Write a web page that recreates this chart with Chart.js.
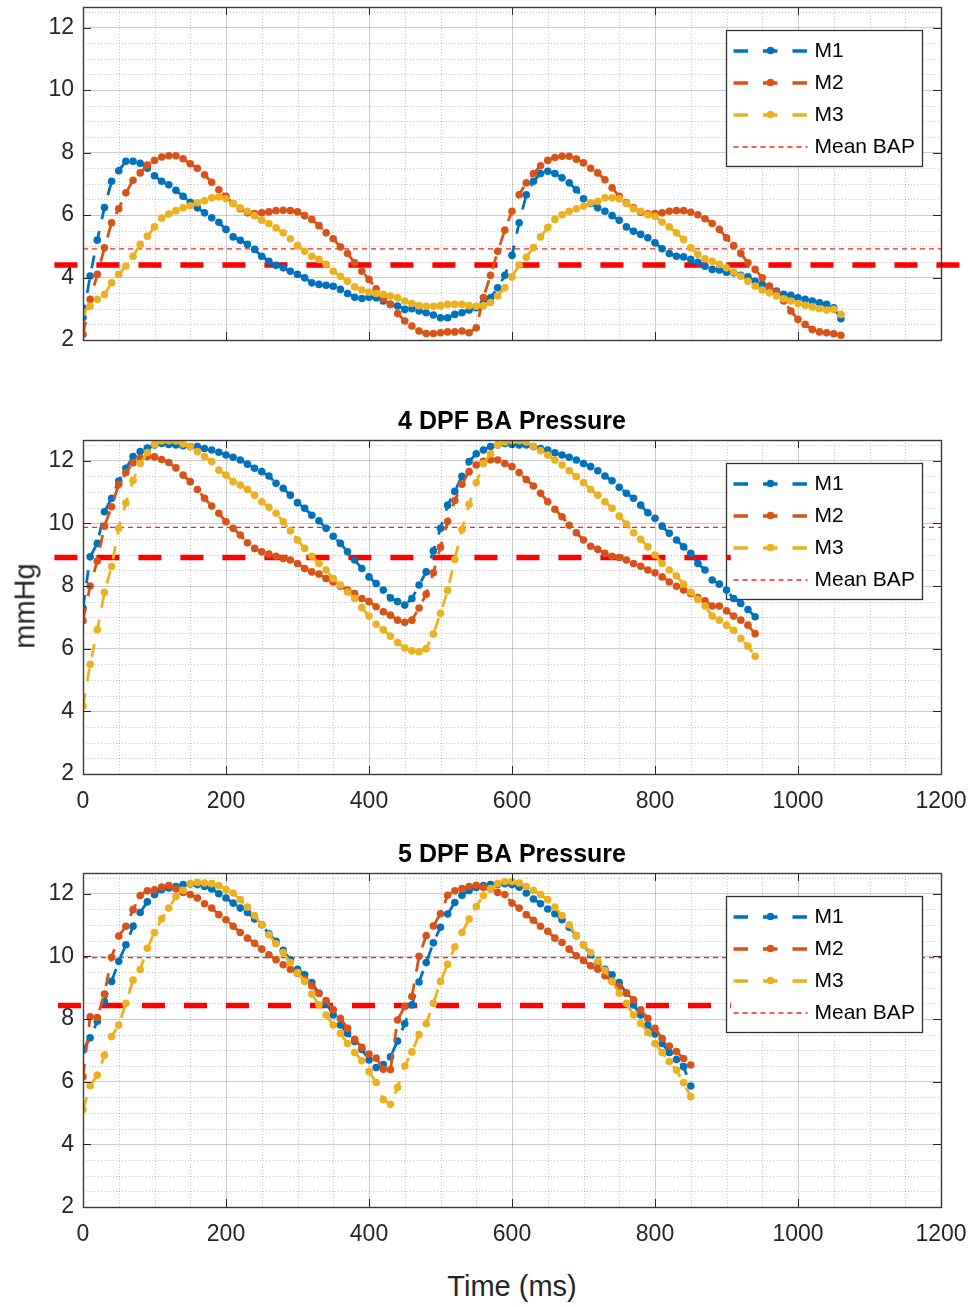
<!DOCTYPE html>
<html>
<head>
<meta charset="utf-8">
<script src="https://cdn.jsdelivr.net/npm/chart.js@4.4.1/dist/chart.umd.min.js"></script>
<style>
  html, body { margin:0; padding:0; background:#fff; }
  body { width:969px; height:1307px; position:relative; overflow:hidden; font-family:"Liberation Sans", Arial, Helvetica, sans-serif; }
  canvas { position:absolute; left:0; }
  #ylab { position:absolute; left:25px; top:606px; transform:translate(-50%,-50%) rotate(-90deg); font-size:29px; color:#262626; white-space:nowrap; }
  #xlab { position:absolute; left:512px; top:1286px; transform:translate(-50%,-50%); font-size:29px; color:#262626; white-space:nowrap; }
</style>
</head>
<body>
<canvas id="c1" width="969" height="360" style="top:0px"></canvas>
<canvas id="c2" width="969" height="424" style="top:395px"></canvas>
<canvas id="c3" width="969" height="424" style="top:828px"></canvas>
<div id="ylab">mmHg</div>
<div id="xlab">Time (ms)</div>
<script>
// ---------------- data ----------------
const timeMs = [0,10,20,30,40,50,60,70,80,90,100,110,120,130,140,150,160,170,180,190,200,210,220,230,240,250,260,270,280,290,300,310,320,330,340,350,360,370,380,390,400,410,420,430,440,450,460,470,480,490,500,510,520,530,540,550,560,570,580,590,600,610,620,630,640,650,660,670,680,690,700,710,720,730,740,750,760,770,780,790,800,810,820,830,840,850,860,870,880,890,900,910,920,930,940,950,960,970,980,990,1000,1010,1020,1030,1040,1050,1060];

const xTicks = [0,200,400,600,800,1000,1200];
const yTicks = [2,4,6,8,10,12];
const seriesNames = ['M1','M2','M3'];
const meanLabel = 'Mean BAP';
const panelTitles = ['', '4 DPF BA Pressure', '5 DPF BA Pressure'];

// Panel 1 (top)
const top_M1 = [2.72,4.05,5.2,6.24,7.08,7.42,7.72,7.72,7.66,7.5,
  7.26,7.08,6.97,6.79,6.6,6.41,6.23,6.07,5.91,5.77,
  5.54,5.3,5.19,5.06,4.9,4.68,4.52,4.39,4.31,4.2,
  4.1,3.99,3.83,3.78,3.75,3.72,3.62,3.49,3.37,3.33,
  3.37,3.35,3.25,3.14,3.09,2.98,3.0,2.93,2.87,2.8,
  2.71,2.71,2.82,2.87,2.96,3.03,3.19,3.35,3.67,4.07,
  4.71,5.75,6.65,7.08,7.33,7.4,7.33,7.19,7.03,6.81,
  6.52,6.37,6.23,6.12,5.98,5.83,5.62,5.48,5.38,5.27,
  5.11,4.92,4.77,4.68,4.66,4.58,4.49,4.36,4.26,4.24,
  4.17,4.15,4.07,4.02,3.88,3.78,3.67,3.57,3.46,3.43,
  3.35,3.3,3.25,3.19,3.14,3.03,2.68];
const top_M2 = [2.18,3.3,4.1,4.95,5.75,6.2,6.71,7.11,7.35,7.6,
  7.75,7.86,7.9,7.9,7.8,7.64,7.5,7.29,7.05,6.81,
  6.6,6.37,6.2,6.07,6.05,6.07,6.1,6.14,6.15,6.14,
  6.1,5.98,5.86,5.66,5.43,5.24,4.98,4.77,4.47,4.2,
  3.94,3.64,3.32,3.14,2.85,2.61,2.45,2.29,2.21,2.21,
  2.23,2.26,2.26,2.29,2.23,2.39,3.36,4.07,4.84,5.52,
  6.12,6.65,7.03,7.33,7.58,7.75,7.84,7.88,7.88,7.79,
  7.67,7.5,7.35,7.13,6.87,6.6,6.39,6.23,6.09,6.04,
  6.05,6.07,6.12,6.14,6.14,6.09,6.01,5.88,5.73,5.54,
  5.27,5.02,4.77,4.47,4.26,3.99,3.73,3.53,3.25,2.93,
  2.66,2.5,2.34,2.26,2.23,2.2,2.15];
const top_M3 = [2.88,3.09,3.3,3.46,3.83,4.1,4.37,4.68,5.06,5.32,
  5.62,5.9,6.03,6.14,6.23,6.3,6.39,6.46,6.55,6.58,
  6.52,6.37,6.23,6.12,5.98,5.83,5.73,5.59,5.43,5.24,
  5.02,4.84,4.68,4.58,4.42,4.2,4.04,3.88,3.7,3.6,
  3.53,3.49,3.46,3.41,3.35,3.25,3.17,3.1,3.08,3.08,
  3.1,3.14,3.14,3.14,3.1,3.08,3.1,3.2,3.41,3.67,
  4.02,4.4,4.65,4.96,5.3,5.6,5.86,6.01,6.12,6.2,
  6.28,6.39,6.44,6.55,6.55,6.52,6.37,6.2,6.12,6.01,
  5.96,5.77,5.62,5.43,5.22,4.95,4.74,4.6,4.52,4.42,
  4.31,4.17,4.04,3.88,3.73,3.6,3.51,3.41,3.32,3.25,
  3.17,3.11,3.06,3.0,2.96,2.98,2.82];
const top_meanThin = 4.92;
const top_meanThick = 4.4;
const top_thickSpan = [-40, 1228];

// Panel 2 (4 DPF)
const mid_M1 = [7.3,8.93,9.36,10.37,10.8,11.35,11.76,12.13,12.29,12.4,
  12.5,12.55,12.52,12.5,12.48,12.45,12.45,12.39,12.34,12.27,
  12.18,12.11,12.02,11.89,11.76,11.65,11.51,11.28,11.12,10.9,
  10.66,10.48,10.26,10.08,9.84,9.59,9.36,9.09,8.83,8.56,
  8.29,8.08,7.87,7.62,7.5,7.39,7.6,8.03,8.45,9.12,
  9.84,10.58,11.02,11.5,11.97,12.22,12.34,12.45,12.5,12.55,
  12.52,12.5,12.5,12.45,12.39,12.34,12.25,12.18,12.11,12.02,
  11.91,11.81,11.68,11.51,11.36,11.15,10.96,10.8,10.58,10.34,
  10.16,9.91,9.68,9.47,9.25,9.04,8.72,8.51,8.19,8.06,
  7.87,7.6,7.44,7.25,7.02];
const mid_M2 = [6.89,8.0,8.8,9.91,10.53,11.25,11.62,11.93,12.08,12.13,
  12.12,12.04,11.94,11.77,11.54,11.33,11.08,10.8,10.55,10.32,
  10.05,9.84,9.63,9.38,9.2,9.09,9.02,8.95,8.88,8.83,
  8.72,8.56,8.45,8.38,8.24,8.13,7.99,7.87,7.76,7.6,
  7.5,7.34,7.18,7.07,6.91,6.84,6.91,7.3,7.74,8.42,
  9.24,10.06,10.73,11.25,11.65,11.86,11.98,12.03,12.02,11.91,
  11.81,11.62,11.4,11.19,10.96,10.69,10.45,10.21,9.94,9.7,
  9.47,9.27,9.17,9.04,8.95,8.91,8.83,8.72,8.63,8.51,
  8.42,8.29,8.13,7.99,7.87,7.76,7.63,7.53,7.36,7.36,
  7.21,7.04,6.91,6.75,6.48];
const mid_M3 = [4.17,5.5,6.6,7.8,8.62,9.84,10.65,11.37,11.91,12.26,
  12.52,12.63,12.64,12.63,12.53,12.45,12.29,12.13,11.97,11.7,
  11.54,11.33,11.22,11.08,10.9,10.69,10.51,10.32,10.05,9.76,
  9.47,9.2,8.95,8.72,8.51,8.24,8.03,7.81,7.6,7.31,
  7.04,6.78,6.6,6.4,6.2,6.02,5.93,5.9,6.0,6.47,
  7.13,7.86,8.85,9.8,10.61,11.3,11.91,12.22,12.5,12.6,
  12.64,12.64,12.6,12.45,12.32,12.18,12.02,11.86,11.68,11.49,
  11.3,11.08,10.9,10.69,10.48,10.23,9.98,9.7,9.49,9.25,
  8.99,8.72,8.51,8.32,8.06,7.81,7.57,7.36,7.04,6.91,
  6.75,6.59,6.32,6.08,5.76];
const mid_meanThin = 9.87;
const mid_meanThick = 8.91;
const mid_thickSpan = [-40, 906];

// Panel 3 (5 DPF)
const bot_M1 = [7.0,7.4,7.93,8.55,9.2,9.84,10.37,10.96,11.4,11.74,
  11.97,12.13,12.18,12.23,12.29,12.31,12.29,12.23,12.15,12.0,
  11.86,11.7,11.54,11.4,11.19,11.01,10.72,10.48,10.19,9.89,
  9.59,9.41,9.16,8.82,8.5,8.13,7.81,7.54,7.28,7.03,
  6.69,6.45,6.55,6.79,7.3,7.85,8.45,9.18,9.8,10.43,
  10.93,11.35,11.72,11.95,12.1,12.2,12.26,12.29,12.29,12.32,
  12.29,12.21,12.02,11.83,11.68,11.51,11.36,11.17,10.93,10.66,
  10.37,10.05,9.8,9.59,9.41,9.16,8.82,8.45,8.13,7.81,
  7.52,7.22,6.93,6.71,6.48,5.86];
const bot_M2 = [6.16,8.07,8.05,8.8,9.97,10.65,10.96,11.49,11.94,12.09,
  12.12,12.21,12.26,12.15,12.04,11.97,11.86,11.68,11.54,11.33,
  11.17,10.96,10.76,10.58,10.42,10.23,10.05,9.89,9.73,9.59,
  9.46,9.27,9.06,8.82,8.59,8.29,8.02,7.7,7.35,7.1,
  6.88,6.75,6.4,6.39,7.97,8.4,8.72,10.0,10.66,10.97,
  11.36,11.95,12.09,12.16,12.23,12.27,12.2,12.15,12.04,11.97,
  11.7,11.54,11.33,11.15,10.96,10.8,10.58,10.44,10.23,10.02,
  9.87,9.7,9.59,9.38,9.2,9.04,8.84,8.61,8.29,8.02,
  7.7,7.38,7.14,6.96,6.74,6.53];
const bot_M3 = [5.11,5.87,6.21,6.84,7.44,7.81,8.5,9.24,9.58,10.26,
  10.76,11.2,11.54,11.91,12.11,12.32,12.36,12.34,12.32,12.26,
  12.13,12.02,11.81,11.57,11.3,11.01,10.69,10.4,10.12,9.8,
  9.48,9.2,8.8,8.45,8.13,7.81,7.54,7.22,6.93,6.67,
  6.32,5.97,5.43,5.28,5.82,6.5,6.95,7.5,7.85,8.5,
  9.2,9.75,10.3,10.76,11.19,11.59,11.94,12.16,12.32,12.39,
  12.39,12.34,12.23,12.11,11.97,11.81,11.57,11.3,11.01,10.66,
  10.37,10.12,9.84,9.55,9.2,8.82,8.5,8.13,7.86,7.57,
  7.22,6.93,6.64,6.37,5.97,5.52];
const bot_meanThin = 9.96;
const bot_meanThick = 8.43;
const bot_thickSpan = [-35, 906];

// ---------------- styling ----------------
const FONT = '"Liberation Sans", Arial, Helvetica, sans-serif';
const COLORS = ['#0072BD', '#D95319', '#EDB120'];
const AXIS_COLOR = '#262626';
const THIN_RED = '#ff1f1f';
const X_MIN = 0, X_MAX = 1200, Y_MIN = 2, Y_MAX = 12.66;

function drawLegend(chart) {
  const ctx = chart.ctx, a = chart.chartArea;
  const bx = Math.round(a.right - 215) + 0.5, by = Math.round(a.top + 23) + 0.5, bw = 196, bh = 136;
  ctx.save();
  ctx.setLineDash([]);
  ctx.fillStyle = '#ffffff';
  ctx.fillRect(bx, by, bw, bh);
  ctx.strokeStyle = '#303030';
  ctx.lineWidth = 1.3;
  ctx.strokeRect(bx, by, bw, bh);
  const rows = seriesNames.concat([meanLabel]);
  rows.forEach((name, i) => {
    const ds = chart.data.datasets.find(d => d.label === name);
    const cy = by + 20 + i * 32;
    const x0 = bx + 7, x1 = bx + 81;
    ctx.beginPath();
    if (name === meanLabel) {
      ctx.setLineDash([5, 4]);
      ctx.lineWidth = 1.3;
    } else {
      ctx.setLineDash([14.5, 15]);
      ctx.lineWidth = 3.4;
    }
    ctx.strokeStyle = ds.borderColor;
    ctx.moveTo(x0, Math.round(cy)); ctx.lineTo(x1, Math.round(cy));
    ctx.stroke();
    ctx.setLineDash([]);
    if (name !== meanLabel) {
      ctx.beginPath();
      ctx.fillStyle = ds.borderColor;
      ctx.arc(bx + 44, cy, 3.8, 0, Math.PI * 2);
      ctx.fill();
    }
    ctx.fillStyle = '#000';
    ctx.font = '21px ' + FONT;
    ctx.textAlign = 'left';
    ctx.textBaseline = 'middle';
    ctx.fillText(name, bx + 88, cy + 1);
  });
  ctx.restore();
}

const framePlugin = {
  id: 'frame',
  beforeDatasetsDraw(chart) {
    const ctx = chart.ctx, a = chart.chartArea;
    const xs = chart.scales.x, ys = chart.scales.y;
    ctx.save();
    ctx.strokeStyle = 'rgba(0,0,0,0.22)';
    ctx.lineWidth = 1;
    ctx.setLineDash([1, 2]);
    for (let v = X_MIN + 50; v < X_MAX; v += 50) {
      if (v % 200 === 0) continue;
      const x = Math.round(xs.getPixelForValue(v)) + 0.5;
      ctx.beginPath(); ctx.moveTo(x, a.top); ctx.lineTo(x, a.bottom); ctx.stroke();
    }
    for (let v = Y_MIN + 0.5; v < Y_MAX; v += 0.5) {
      if (Math.abs(v % 2) < 1e-6) continue;
      const y = Math.round(ys.getPixelForValue(v)) + 0.5;
      ctx.beginPath(); ctx.moveTo(a.left, y); ctx.lineTo(a.right, y); ctx.stroke();
    }
    ctx.restore();
  },
  afterDatasetDraw(chart, args) {
    const ds = chart.data.datasets[args.index];
    if (ds.label === meanLabel) drawLegend(chart);
  },
  afterDatasetsDraw(chart) {
    const ctx = chart.ctx, a = chart.chartArea;
    const xs = chart.scales.x, ys = chart.scales.y;
    ctx.save();
    ctx.setLineDash([]);
    ctx.strokeStyle = AXIS_COLOR;
    ctx.lineWidth = 1;
    xTicks.forEach(v => {
      const x = Math.round(xs.getPixelForValue(v)) + 0.5;
      ctx.beginPath();
      ctx.moveTo(x, a.bottom); ctx.lineTo(x, a.bottom - 8);
      ctx.moveTo(x, a.top); ctx.lineTo(x, a.top + 8);
      ctx.stroke();
    });
    yTicks.forEach(v => {
      const y = Math.round(ys.getPixelForValue(v)) + 0.5;
      ctx.beginPath();
      ctx.moveTo(a.left, y); ctx.lineTo(a.left + 8, y);
      ctx.moveTo(a.right, y); ctx.lineTo(a.right - 8, y);
      ctx.stroke();
    });
    ctx.lineWidth = 1.4;
    ctx.strokeStyle = '#3a3a3a';
    ctx.strokeRect(Math.round(a.left) + 0.5, Math.round(a.top) + 0.5, Math.round(a.width), Math.round(a.height));
    ctx.restore();
  }
};

function makePanel(canvasId, cfg) {
  const n = cfg.series[0].length;
  const t = timeMs.slice(0, n);
  const datasets = cfg.series.map((vals, k) => ({
    label: seriesNames[k],
    data: t.map((x, i) => ({ x: x, y: vals[i] })),
    borderColor: COLORS[k],
    backgroundColor: COLORS[k],
    borderWidth: 2.8,
    borderDash: [13, 12],
    pointRadius: 3.8,
    pointBorderWidth: 0,
    pointBackgroundColor: COLORS[k],
    tension: 0,
    order: 3 - k
  }));
  datasets.push({
    label: meanLabel,
    data: [{ x: X_MIN, y: cfg.meanThin }, { x: X_MAX, y: cfg.meanThin }],
    borderColor: THIN_RED,
    borderWidth: 1.3,
    borderDash: [5, 4],
    pointRadius: 0,
    order: 30
  });
  datasets.push({
    label: 'Mean BAP (overall)',
    data: [{ x: cfg.thickSpan[0], y: cfg.meanThick }, { x: cfg.thickSpan[1], y: cfg.meanThick }],
    borderColor: '#ff0000',
    borderWidth: 5.5,
    borderDash: [23, 19],
    pointRadius: 0,
    clip: false,
    order: 20
  });

  const noPadX = ax => { ax.height = cfg.xAxisH; ax.paddingLeft = 0; ax.paddingRight = 0; ax.paddingTop = 0; ax.paddingBottom = 0; };
  const noPadY = ax => { ax.width = 83; ax.paddingLeft = 0; ax.paddingRight = 0; ax.paddingTop = 0; ax.paddingBottom = 0; };

  return new Chart(document.getElementById(canvasId), {
    type: 'line',
    data: { datasets },
    plugins: [framePlugin],
    options: {
      responsive: false,
      animation: false,
      events: [],
      layout: { padding: { top: cfg.padTop, right: 28, left: 0, bottom: 0 } },
      plugins: {
        legend: { display: false },
        tooltip: { enabled: false },
        title: {
          display: !!cfg.title,
          text: cfg.title,
          fullSize: false,
          color: '#000',
          font: { family: FONT, size: 25, weight: 'bold', lineHeight: 1.2 },
          padding: { top: 0, bottom: 3 }
        }
      },
      scales: {
        x: {
          type: 'linear', min: X_MIN, max: X_MAX,
          afterBuildTicks: ax => { ax.ticks = xTicks.map(v => ({ value: v })); },
          afterFit: noPadX,
          ticks: { display: cfg.showX, padding: 14, color: AXIS_COLOR, autoSkip: false, maxRotation: 0,
                   font: { family: FONT, size: 23 }, callback: v => String(v) },
          grid: { color: 'rgba(0,0,0,0.2)', lineWidth: 1, drawTicks: false },
          border: { display: false }
        },
        y: {
          type: 'linear', min: Y_MIN, max: Y_MAX,
          afterBuildTicks: ax => { ax.ticks = yTicks.map(v => ({ value: v })); },
          afterFit: noPadY,
          ticks: { padding: 9, color: AXIS_COLOR, autoSkip: false,
                   font: { family: FONT, size: 23 }, callback: v => String(v) },
          grid: { color: 'rgba(0,0,0,0.2)', lineWidth: 1, drawTicks: false },
          border: { display: false }
        }
      }
    }
  });
}

makePanel('c1', { series: [top_M1, top_M2, top_M3], meanThin: top_meanThin, meanThick: top_meanThick,
  thickSpan: top_thickSpan, title: panelTitles[0], padTop: 7, xAxisH: 20, showX: false });
makePanel('c2', { series: [mid_M1, mid_M2, mid_M3], meanThin: mid_meanThin, meanThick: mid_meanThick,
  thickSpan: mid_thickSpan, title: panelTitles[1], padTop: 12, xAxisH: 45, showX: true });
makePanel('c3', { series: [bot_M1, bot_M2, bot_M3], meanThin: bot_meanThin, meanThick: bot_meanThick,
  thickSpan: bot_thickSpan, title: panelTitles[2], padTop: 12, xAxisH: 45, showX: true });
</script>
</body>
</html>
